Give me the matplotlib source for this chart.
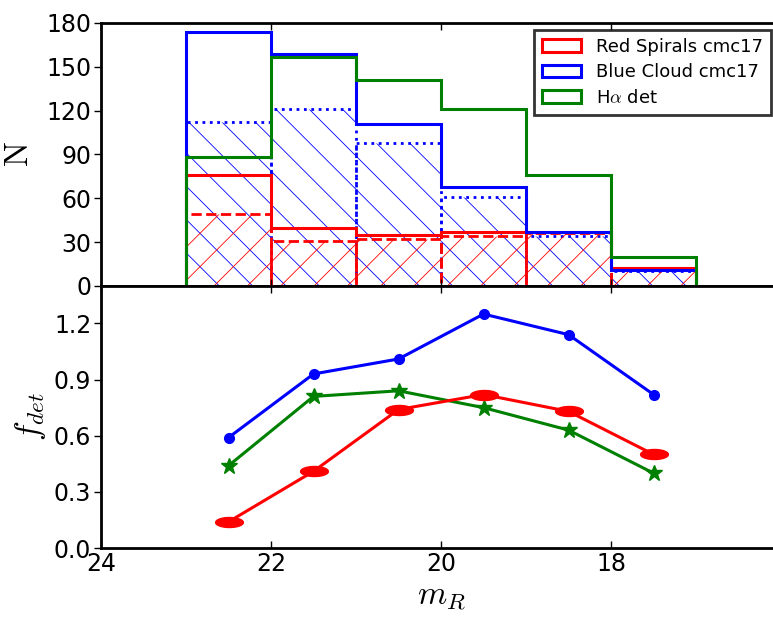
import numpy as np
import matplotlib
matplotlib.use("Agg")
import matplotlib.pyplot as plt

plt.rcParams['mathtext.fontset'] = 'cm'
plt.rcParams['hatch.linewidth'] = 0.6

# histogram bins (m_R) and counts
edges = [23, 22, 21, 20, 19, 18, 17]
red_all = [76, 40, 35, 37, 37, 12]
red_det = [49, 31, 32, 34, 36, 11]
blue_all = [174, 159, 111, 68, 37, 11]
blue_det = [112, 121, 98, 61, 34, 10]
halpha = [88, 157, 141, 121, 76, 20]

# detection fractions
mag = [22.5, 21.5, 20.5, 19.5, 18.5, 17.5]
f_blue = [0.59, 0.93, 1.01, 1.25, 1.14, 0.82]
f_ha = [0.44, 0.81, 0.84, 0.75, 0.63, 0.40]
f_red = [0.14, 0.41, 0.74, 0.82, 0.73, 0.50]

fig = plt.figure(figsize=(7.73, 6.17), dpi=100)
ax1 = fig.add_axes([0.1307, 0.5365, 0.8797, 0.4263])
ax2 = fig.add_axes([0.1307, 0.1118, 0.8797, 0.4247])

centers = [(edges[i] + edges[i + 1]) / 2 for i in range(len(edges) - 1)]
bins = sorted(edges)

ax1.bar(centers, blue_det, width=1.0, fill=False, edgecolor='b', hatch='\\',
        linestyle=':', linewidth=2)
ax1.bar(centers, red_det, width=1.0, fill=False, edgecolor='r', hatch='/',
        linestyle='--', linewidth=2)
ax1.hist(centers, bins=bins, weights=red_all, histtype='step', color='r',
         linewidth=2.2, label='Red Spirals cmc17')
ax1.hist(centers, bins=bins, weights=blue_all, histtype='step', color='b',
         linewidth=2.2, label='Blue Cloud cmc17')
ax1.hist(centers, bins=bins, weights=halpha, histtype='step', color='g',
         linewidth=2.2, label=r'H$\alpha$ det')

ax1.set_xlim(24, 16)
ax1.set_ylim(0, 180)
ax1.set_yticks(np.arange(0, 181, 30))
ax1.set_xticks([24, 22, 20, 18])
ax1.tick_params(labelbottom=False)
ax1.set_ylabel(r'$\mathrm{N}$', fontsize=24)
ax1.yaxis.set_label_coords(-0.097, 0.5)

leg = ax1.legend(loc='upper right', bbox_to_anchor=(771 / 773, 1 - 30 / 617),
                 bbox_transform=fig.transFigure, fontsize=13, fancybox=False,
                 handlelength=2.2, borderpad=0.45, labelspacing=0.4,
                 borderaxespad=0)
leg.get_frame().set_edgecolor('k')
leg.get_frame().set_linewidth(2)

theta = np.linspace(0, 2 * np.pi, 60)
ellipse = np.column_stack([np.cos(theta), 0.36 * np.sin(theta)])

ax2.plot(mag, f_blue, color='b', marker='o', markersize=7, linewidth=2.2,
         markeredgecolor='b')
ax2.plot(mag, f_ha, color='g', marker='*', markersize=12, linewidth=2.2,
         markeredgecolor='g')
ax2.plot(mag, f_red, color='r', marker=ellipse, markersize=20, linewidth=2.2,
         markeredgecolor='r')

ax2.set_xlim(24, 16)
ax2.set_ylim(0, 1.4)
ax2.set_yticks([0.0, 0.3, 0.6, 0.9, 1.2])
ax2.set_yticklabels(['0.0', '0.3', '0.6', '0.9', '1.2'])
ax2.set_xticks([24, 22, 20, 18])
ax2.set_ylabel(r'$f_{det}$', fontsize=24)
ax2.yaxis.set_label_coords(-0.078, 0.5)
ax2.set_xlabel(r'$m_R$', fontsize=24, labelpad=2)

for ax in (ax1, ax2):
    for s in ax.spines.values():
        s.set_linewidth(2)
    ax.tick_params(axis='x', direction='in', top=True, length=5, width=1,
                   labelsize=17, pad=3)
    ax.tick_params(axis='y', direction='out', length=5, width=1,
                   labelsize=17, pad=2)

fig.savefig('out.png', dpi=100)
